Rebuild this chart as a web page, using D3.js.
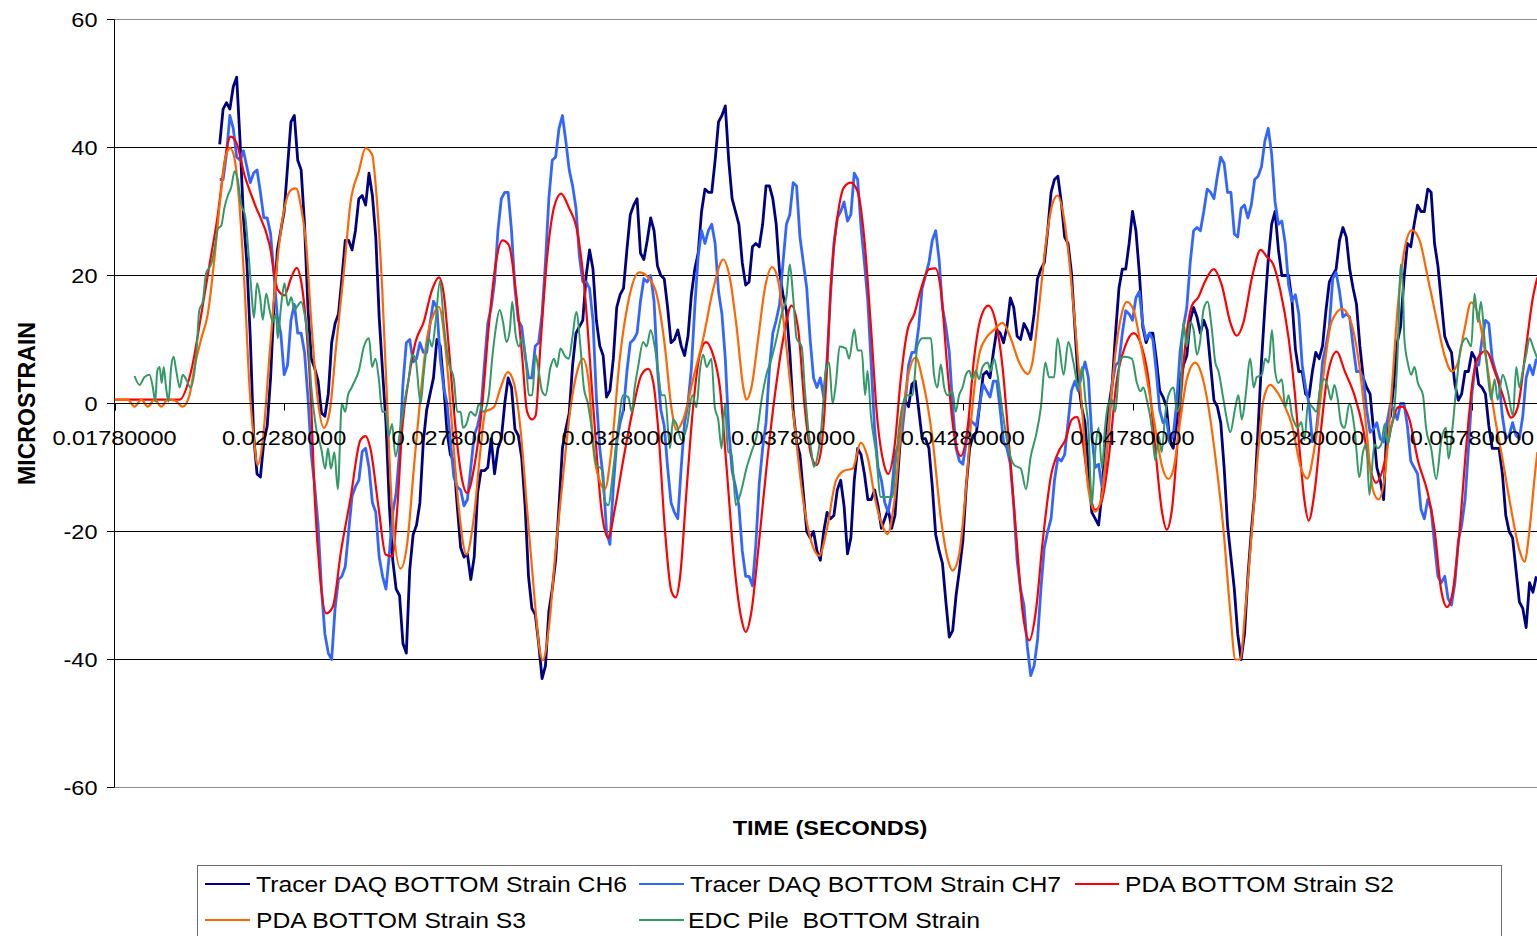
<!DOCTYPE html>
<html>
<head>
<meta charset="utf-8">
<script src="https://cdn.jsdelivr.net/npm/d3@7"></script>
<style>
  body { margin: 0; background: #fff; }
  svg { display: block; }
  text { font-family: "Liberation Sans", Arial, sans-serif; fill: #000; white-space: pre; }
</style>
</head>
<body>
<svg id="chart" width="1537" height="936"></svg>
<script>
// ---- axis definitions -------------------------------------------------
const xTickValues = [0.0178, 0.0228, 0.0278, 0.0328, 0.0378, 0.0428, 0.0478, 0.0528, 0.0578];
const yTickValues = [-60, -40, -20, 0, 20, 40, 60];
const xTitle = "TIME (SECONDS)";
const yTitle = "MICROSTRAIN";

// ---- Tracer DAQ gauges: sampled every 0.1 ms from 20.9 ms -------------
const daqStartMs = 20.9;
const daqStepMs = 0.1;

const ch6Strain = [
  40.5,46, 47,46, 49.5,51, 41,29, 22,10.5,
  -5,-11, -11.5,-6, -3.5,4, 15.5,24, 27,30,
  37,44, 45,38, 36.5,28, 15,7, 5.5,3.5,
  -1.5,-2, 1.5,9.5, 12.5,14, 19.5,25.5, 25.5,24,
  27,32, 32.5,31, 36,32.5, 26,13.5, 5,-3,
  -16,-24.5, -29,-30, -37.5,-39, -26,-20.5, -19,-15.5,
  -6,-1, 1.5,4, 10,9, 3,-4.5, -8,-9,
  -16,-22.5, -24,-23.5, -27.5,-24, -14,-10.5, -10.5,-10,
  -5.5,-11, -7,-5.5, 0,4, 2.5,-4, -5,-8.5,
  -16,-27, -32,-33, -37.5,-43, -41,-32.5, -29,-24.5,
  -16,-7, -4,-1.5, 6,11, 12,13, 20,24,
  21,13, 9,7.5, 1,2, 7,15, 17,18,
  24,29.5, 31,32, 23.5,22.5, 25.5,29, 27,21.5,
  20,19.5, 15,9.5, 10,11.5, 9,7.5, 10.5,17,
  21,23.5, 30,33.5, 33,33, 38,44, 45,46.5,
  38,32, 30,28, 22,18.5, 19,24.5, 25,24.5,
  28,34, 34,32, 28,20.5, 17,14.5, 8,-1,
  -6,-8, -14,-20, -21,-20, -23,-24.5, -20,-17,
  -18,-17.5, -13.5,-12, -16,-23.5, -21,-12, -7,-8,
  -11,-15, -15,-13.5, -16,-19.5, -18,-16.5, -19.5,-17.5,
  -10,-2.5, 0.5,-0.5, 3,3.5, -1,-5.5, -5.5,-7,
  -13,-20.5, -23,-25, -31,-36.5, -35.5,-30, -26,-21.5,
  -13,-7, -5,-4.5, 0,4.5, 5,4, 8,11.5,
  11,9.5, 12,16.5, 15,10.5, 10,12.5, 11.5,10,
  14,19.5, 21,22, 27,33, 35,35.5, 31.5,26,
  25,20.5, 12,3.5, -0.5,-3, -10,-17, -18,-19,
  -14,-5, -0.5,3, 11,18, 21,21, 25,30,
  27,20.5, 12,9.5, 11,11, 7,2, 1,-0.5,
  -6,-7, -3,3.5, 6,7.5, 13,15, 13.5,11,
  13,11.5, 6,0.5, -0.5,-3, -10,-19, -24,-29,
  -36,-40, -36,-27, -20,-14, -4,6.5, 15,22.5,
  28,30, 24,20, 20,20, 16,8.5, 5,5,
  1.5,1, 5,8, 7,9, 14.5,19, 20,21,
  25.5,27.5, 26,21, 18,15.5, 9,4, 2.5,1.5,
  -4,-10, -12,-15, -3,-2, 3,9.5, 12,19.5,
  25,24.5, 28,31, 30,30, 33.5,33, 25,21.5,
  16,10.5, 9,8, 3,0.5, 1.5,5, 5,8,
  7,3, 2.5,1.5, -3.5,-7, -7,-7, -11,-17.5,
  -20,-21, -26,-31, -32,-35, -28,-29.5, -27
];

const ch7Strain = [
  35,35, 39,45, 43,38.5, 38,39.5, 37,34.5,
  36,36.5, 33,29, 29,26.5, 20,13.5, 11,4.5,
  6,13, 15.5,11, 11,8, 1,-8, -13,-19,
  -29,-36, -39,-40, -32,-27.5, -27,-25.5, -20,-14.5,
  -13,-12, -7.5,-7, -10,-15.5, -17,-24, -27,-29,
  -23.5,-17, -14,-7.5, 3,9.5, 10,6.5, 7,9.5,
  8,8, 12.5,16, 15,7, 2.5,0, -6,-11.5,
  -13,-13.5, -16,-15, -10,-5, -3.5,-1, 6,12.5,
  15,19, 27,32, 33,33, 27,18, 13,12,
  7.5,4, 4,9, 9.5,14, 22,32, 38,38.5,
  43,45, 41,36.5, 34,30.5, 23,19, 19,18,
  13,1, -7,-11.5, -20,-22, -13,-6, -3,-1,
  5,9.5, 10,11, 16,19.5, 19,20, 16,5.5,
  -1,-3.5, -10,-15.5, -17,-18, -10,-3, 0,5.5,
  15,23, 27,25, 27,28, 25,17.5, 14,7,
  -4,-10.5, -13,-16, -23,-27, -27,-28.5, -22,-12.5,
  -7,-3, 5.5,11, 13,15.5, 22,28, 29.5,34.5,
  34,26, 22,18, 10,4, 2.5,4, 1,7,
  17,25, 29,30, 31.5,28.5, 29.5,36, 35,27.5,
  22,16, 6,-4, -10,-12, -15.5,-17, -14,-8,
  -6.5,-5, 0,6, 8,8, 12,18, 20,22,
  25.5,27, 22.5,15, 12,8, -0.5,-7, -9,-9.5,
  -6,-2.5, -3,-3.5, 0,3, 2,1, 3.5,3.5,
  -1,-6, -7,-9.5, -16,-24.5, -29,-31.5, -38,-42.5,
  -41,-37, -29,-22.5, -20,-18, -12,-8.5, -9,-8,
  -3,2, 3.5,2, 4.5,6.5, 4,-5, -10,-9.5,
  -13,-10, -3.5,3, 6,6.5, 11,14.5, 14,13,
  16.5,17.5, 12.5,10, 11,10, 5,-1, -3,-2.5,
  -6,-5, 0,8, 12,15, 22,27, 27.5,27,
  30,33.5, 33,32, 35.5,38.5, 37.5,33, 33,26.5,
  26,30.5, 31,29, 31,35, 35.5,37, 41,43,
  39,31.5, 28,28.5, 25,18.5, 16,17, 14,6,
  2.5,0, -6,-5, 0,6.5, 9,12, 19.5,20.5,
  17.5,13.5, 14,13.5, 9,5, 5,4, -1,-4.5,
  -4,-3, -5.5,-6, -3,0, -1,-2.5, 0,0,
  -3.5,-9, -10,-11, -16.5,-18, -15,-16.5, -22,-27,
  -28,-27, -30.5,-31.5, -28,-21.5, -19,-15, -7,1.5,
  6,6, 10,13, 12.5,7, 5,3.5, -2,-5.5,
  -5,-3, -5,-5.5, -2,4, 6,4.5, 7
];

// ---- PDA gauges: [time ms, microstrain] -------------------------------
const s2Samples = [
  [17.80,0.6],[19.72,0.6],[20.06,5.1],[20.36,14],[20.60,21.7],[20.84,29.3],[21.04,37.6],[21.22,41.7],[21.39,40.8],[21.63,35.7],
  [21.93,31.2],[22.37,24.8],[22.61,17.8],[22.81,16.9],[23.01,19.7],[23.17,21.2],[23.30,19.1],[23.45,12.1],[23.60,-0.6],[23.69,-13.4],
  [23.84,-26],[24.04,-32.8],[24.23,-31.8],[24.48,-22.9],[24.75,-15],[25.05,-5.7],[25.20,-5.1],[25.34,-7],[25.59,-16.6],[25.79,-23.6],
  [25.98,-23.9],[26.13,-16.6],[26.28,-3.8],[26.47,3.8],[26.67,9.6],[26.91,12.7],[27.16,17.8],[27.36,19.7],[27.50,17.2],[27.65,8.9],
  [27.85,-3.8],[28.05,-12.1],[28.19,-14],[28.39,-10.2],[28.64,0],[28.83,12.1],[29.03,21.7],[29.23,25.5],[29.42,24.8],[29.62,17.8],
  [29.81,7.6],[29.96,-1.3],[30.11,-2.5],[30.21,-1.9],[30.35,8.9],[30.55,22.9],[30.75,30.6],[30.96,32.8],[31.19,30.6],[31.44,26.8],
  [31.63,19.1],[31.91,-0.6],[32.15,-16.6],[32.35,-21],[32.54,-16.6],[32.79,-8.9],[33.09,-0.6],[33.33,4.5],[33.53,5.4],[33.68,3.2],
  [33.82,-3.8],[34.02,-19.7],[34.21,-29.3],[34.34,-30.3],[34.46,-27.4],[34.66,-13.4],[34.85,-0.6],[35.05,7.6],[35.23,9.6],[35.44,7.6],
  [35.64,2.5],[35.84,-10.2],[36.08,-26],[36.28,-33.8],[36.40,-35.7],[36.57,-32.5],[36.77,-22.9],[37.01,-10.2],[37.26,1.3],[37.51,10.2],
  [37.75,15.3],[37.95,11.5],[38.14,-0.6],[38.34,-8.3],[38.49,-9.6],[38.63,-7],[38.78,3.8],[38.91,18.5],[39.11,29.3],[39.30,33.8],
  [39.50,34.5],[39.70,33.1],[39.89,26.1],[40.09,12.1],[40.28,-2.5],[40.48,-9.6],[40.60,-11],[40.78,-7],[40.97,3.8],[41.17,11.5],
  [41.37,14],[41.56,17.8],[41.81,21],[41.99,21.1],[42.15,17.8],[42.35,5.1],[42.55,-5.1],[42.74,-8.2],[42.94,-3.8],[43.13,7],
  [43.33,13.4],[43.55,15.3],[43.77,12.7],[43.97,5.7],[44.17,-7],[44.36,-19.7],[44.56,-32.5],[44.76,-37],[44.95,-32.5],[45.15,-21.7],
  [45.39,-11.5],[45.64,-7.3],[45.82,-5.7],[46.01,-2.5],[46.16,-2.1],[46.31,-5.1],[46.50,-12.7],[46.70,-16.6],[46.89,-15.3],[47.09,-8.9],
  [47.34,3.8],[47.58,8.9],[47.83,11],[48.07,8.9],[48.27,3.8],[48.47,-7],[48.66,-16.6],[48.81,-19.7],[48.96,-16.6],[49.16,-3.8],
  [49.35,8.9],[49.55,15.3],[49.74,16.6],[49.94,19.1],[50.19,21],[50.43,18.5],[50.68,12.7],[50.87,10.6],[51.07,12.7],[51.32,19.7],
  [51.58,24],[51.76,22.9],[51.95,21.7],[52.15,17.8],[52.40,10.2],[52.59,1.3],[52.72,-7],[52.87,-15.3],[52.99,-18.3],[53.16,-14],
  [53.36,-3.8],[53.55,4.5],[53.82,8.1],[54.05,5.1],[54.34,1.3],[54.59,-3.8],[54.78,-9.6],[54.98,-12.4],[55.18,-10.2],[55.42,-3.8],
  [55.62,-0.6],[55.76,-0.5],[55.96,-2.5],[56.21,-8.9],[56.50,-14],[56.70,-19.7],[56.90,-29.3],[57.07,-31.8],[57.24,-29.3],[57.44,-19.7],
  [57.63,-7],[57.83,3.8],[58.03,7.6],[58.22,8.2],[58.47,5.1],[58.71,1.3],[58.96,-2.2],[59.15,-0.6],[59.40,8.9],[59.60,16.6],
  [59.73,19.7]
];

const s3Samples = [
  [17.80,0.6],[18.19,0.6],[18.39,-0.5],[18.59,0.6],[18.78,-0.5],[18.98,0.6],[19.18,-0.5],[19.37,0.6],[19.57,0.5],[19.81,-0.5],
  [20.01,1.3],[20.16,5.7],[20.36,10.2],[20.55,14],[20.75,22.9],[20.94,33.1],[21.09,38.9],[21.21,39.9],[21.34,38.2],[21.48,31.2],
  [21.63,18.5],[21.78,2.5],[21.91,-5.7],[22.02,-9.6],[22.17,-5.7],[22.37,7.6],[22.61,22.9],[22.81,30.6],[23.01,33.4],[23.15,33.6],
  [23.30,30.6],[23.45,24.8],[23.60,12.7],[23.79,0.6],[23.97,-3.8],[24.14,-1.3],[24.33,8.9],[24.58,21.7],[24.75,31.2],[25.00,36.3],
  [25.20,39.9],[25.39,38.9],[25.54,31.2],[25.69,17.8],[25.84,-0.6],[25.98,-16.6],[26.23,-25.8],[26.43,-21.7],[26.62,-10.2],[26.82,1.3],
  [27.01,10.2],[27.21,14],[27.36,15.1],[27.55,8.9],[27.75,-3.8],[27.95,-16.6],[28.17,-23.6],[28.39,-17.8],[28.59,-7],[28.73,-1.3],
  [28.98,-0.6],[29.18,2.5],[29.39,4.9],[29.57,3.2],[29.76,-3.8],[29.96,-16.6],[30.16,-29.3],[30.32,-38.2],[30.42,-40.1],[30.60,-35],
  [30.80,-22.9],[31.04,-10.2],[31.24,-0.6],[31.44,5.1],[31.60,7],[31.78,3.2],[31.91,-7],[32.10,-12.1],[32.25,-13.4],[32.45,-7],
  [32.69,7],[32.94,15.9],[33.26,20.5],[33.53,19.7],[33.77,17.2],[34.02,8.9],[34.21,-0.6],[34.36,-4.1],[34.56,-2.5],[34.85,3.8],
  [35.15,10.2],[35.44,17.8],[35.74,22.5],[35.93,19.7],[36.13,12.1],[36.33,2.5],[36.42,0.6],[36.57,2.5],[36.77,10.2],[36.96,17.8],
  [37.18,21.3],[37.36,19.1],[37.60,8.9],[37.85,-3.8],[38.10,-15.3],[38.34,-21.7],[38.57,-23.8],[38.78,-20],[39.06,-12.1],[39.30,-10.5],
  [39.55,-10.2],[39.79,-6.1],[39.99,-8.3],[40.23,-15.3],[40.43,-19.1],[40.58,-20.4],[40.78,-15.3],[41.02,-1.9],[41.22,5.1],[41.41,7.2],
  [41.61,3.8],[41.91,-5.7],[42.15,-17.8],[42.35,-24.2],[42.50,-26.1],[42.69,-23.6],[42.89,-13.4],[43.08,-0.6],[43.28,7.6],[43.48,10.2],
  [43.72,11.5],[43.97,12.6],[44.21,10.2],[44.46,6.4],[44.71,4.6],[44.85,6.4],[45.05,15.3],[45.24,24.8],[45.44,31.2],[45.59,32.5],
  [45.77,29.3],[45.91,23.6],[46.11,12.1],[46.31,-0.6],[46.50,-13.4],[46.70,-16.9],[46.89,-14.6],[47.09,-3.8],[47.29,7.6],[47.48,14],
  [47.63,15.9],[47.83,14.6],[48.03,9.6],[48.27,2.5],[48.47,-3.8],[48.66,-9.6],[48.86,-11.8],[49.01,-10.2],[49.21,-2.5],[49.40,3.8],
  [49.65,6.4],[49.84,4.5],[50.04,-0.6],[50.24,-8.3],[50.48,-19.7],[50.68,-32.5],[50.83,-40],[50.97,-40],[51.12,-32.5],[51.32,-19.7],
  [51.51,-7],[51.66,0.6],[51.86,2.9],[52.05,1.9],[52.30,-0.6],[52.49,-3.2],[52.77,-10.2],[52.95,-11.7],[53.16,-7],[53.41,3.8],
  [53.66,12.7],[53.98,14.8],[54.24,12.7],[54.49,5.7],[54.69,-3.8],[54.88,-13.4],[55.05,-15],[55.23,-11.5],[55.42,0.6],[55.62,15.3],
  [55.82,24.2],[56.03,27.1],[56.26,25.5],[56.50,19.7],[56.75,13.4],[56.99,7.6],[57.21,5],[57.39,6.4],[57.58,11.5],[57.78,15.8],
  [57.98,14],[58.22,7],[58.47,-1.9],[58.71,-8.9],[58.96,-16.6],[59.20,-22.9],[59.35,-24.7],[59.50,-19.7],[59.65,-11.5],[59.73,-7.6]
];

// ---- EDC pile gauge: [time ms, microstrain] ---------------------------
const edcSamples = [
  [18.39,4.3],[18.54,2.9],[18.68,4.1],[18.83,4.5],[18.93,2.5],[19.00,0.3],[19.06,5.1],[19.13,5.7],[19.19,3.2],[19.25,5.7],
  [19.32,2.5],[19.39,0.3],[19.47,5.7],[19.54,7.3],[19.62,5.1],[19.72,2.5],[19.81,4.5],[19.91,3.8],[20.04,2.5],[20.21,7.6],
  [20.30,14.6],[20.40,15.9],[20.50,20.4],[20.65,21.8],[20.75,24.2],[20.85,27.4],[20.94,27.7],[21.04,30.6],[21.14,32.5],[21.24,33.8],
  [21.34,36.3],[21.43,35],[21.53,31.2],[21.65,29.3],[21.73,24.8],[21.83,17.8],[21.91,13.4],[22.00,18.8],[22.09,16.6],[22.17,13.1],
  [22.27,17.2],[22.37,14.6],[22.47,12.7],[22.56,14],[22.61,10.2],[22.71,15.3],[22.81,18.8],[22.91,15.3],[23.01,16.6],[23.10,14.6],
  [23.20,15.3],[23.30,15.9],[23.40,14],[23.50,10.2],[23.60,2.5],[23.74,-3.8],[23.89,-7],[24.01,-10.2],[24.09,-7],[24.18,-10.2],
  [24.28,-7.6],[24.38,-13.4],[24.50,0],[24.60,-1.3],[24.68,1.3],[24.79,2.5],[24.85,3.2],[25.00,5.1],[25.15,8.9],[25.30,10.2],
  [25.39,5.7],[25.49,7],[25.59,3.8],[25.69,-1.3],[25.79,-1.3],[25.88,-5.1],[25.98,-3.2],[26.08,-8.3],[26.23,-3.8],[26.38,1.3],
  [26.47,3.8],[26.57,7.6],[26.67,7],[26.82,0],[26.92,5.1],[27.06,10.2],[27.16,8.9],[27.26,12.7],[27.39,19.1],[27.51,12.1],
  [27.65,6.4],[27.80,3.8],[27.90,-1.3],[28.00,-1.3],[28.07,-3.8],[28.17,-3.2],[28.29,-1.3],[28.44,-1.9],[28.54,0],[28.68,-1.3],
  [28.83,1.3],[28.93,7],[29.03,11.5],[29.15,14.6],[29.25,12.7],[29.35,9.6],[29.45,11.5],[29.52,15.9],[29.62,10.8],[29.72,8.9],
  [29.81,10.2],[29.91,7.6],[30.01,1.3],[30.11,1.3],[30.21,7.6],[30.30,5.1],[30.40,1.9],[30.50,1.3],[30.65,5.7],[30.75,7],
  [30.84,5.7],[30.94,8.6],[31.09,7.3],[31.19,7],[31.29,10.2],[31.41,14.3],[31.53,8.9],[31.63,2.5],[31.75,0],[31.86,-3.8],
  [32.00,-9.6],[32.15,-10.2],[32.25,-15.3],[32.35,-15.9],[32.50,-10.2],[32.64,-3.8],[32.79,1.3],[32.94,1],[33.04,-1.3],[33.13,2.5],
  [33.23,5.7],[33.38,9.6],[33.48,8.9],[33.60,11.5],[33.72,8.9],[33.82,5.1],[33.92,1.3],[34.02,1.3],[34.17,-7],[34.26,-2.5],
  [34.36,-3.2],[34.51,-5.7],[34.66,-3.8],[34.83,1.3],[34.95,-0.6],[35.05,5.1],[35.15,7.6],[35.25,5.7],[35.39,7],[35.49,-0.6],
  [35.59,-2.5],[35.69,-7],[35.79,0],[35.88,-7.6],[35.98,-7.6],[36.11,-15.9],[36.28,-13.4],[36.42,-10.2],[36.57,-7.6],[36.72,-5.1],
  [36.87,0.6],[37.01,4.5],[37.16,7],[37.31,10.2],[37.46,14],[37.60,16.6],[37.70,21.7],[37.80,16.6],[37.90,10.2],[38.05,8.9],
  [38.14,2.5],[38.24,-3.8],[38.34,-7.6],[38.41,-9.9],[38.54,-7.6],[38.63,-3.8],[38.76,5.1],[38.86,6.4],[38.96,0],[39.06,3.2],
  [39.17,8.9],[39.35,8.6],[39.45,7],[39.60,11.6],[39.70,8.3],[39.82,8.3],[39.92,1.3],[39.99,5.1],[40.09,-1.9],[40.24,-7.6],
  [40.38,-14.6],[40.58,-14.6],[40.73,-14.6],[40.83,-8.9],[40.92,-3.8],[41.07,0.6],[41.17,1.3],[41.32,1.3],[41.46,8.9],[41.61,10.2],
  [41.86,10.2],[41.95,4.5],[42.05,2.5],[42.15,6.1],[42.25,2.5],[42.35,1.3],[42.49,1.9],[42.59,-1.3],[42.69,1.3],[42.79,2.5],
  [42.89,4.5],[42.99,5.1],[43.08,3.8],[43.18,5.1],[43.28,3.8],[43.38,5.7],[43.53,6.4],[43.62,5.1],[43.72,7],[43.82,4.5],
  [43.97,-1.3],[44.17,-7.6],[44.31,-9.6],[44.51,-10.2],[44.66,-13.4],[44.80,-8.3],[44.95,-5.1],[45.10,-0.6],[45.23,6.4],[45.34,4.1],
  [45.49,4.1],[45.59,10.2],[45.77,4.5],[45.91,9.6],[46.06,6.4],[46.21,2.5],[46.31,5.7],[46.41,0.6],[46.50,-3.8],[46.60,-15.9],
  [46.70,-7.6],[46.80,-3.8],[46.90,-10.2],[46.99,-3.8],[47.09,0],[47.19,0.6],[47.29,-1.3],[47.44,7],[47.58,7.3],[47.78,7],
  [47.93,3.2],[48.03,1.9],[48.12,2.5],[48.22,0.6],[48.37,-3.8],[48.47,-8.9],[48.57,-5.1],[48.66,-7.6],[48.76,-1.9],[48.86,1.3],
  [49.01,2.5],[49.11,-1.3],[49.20,0],[49.30,12.7],[49.40,8.9],[49.50,12.7],[49.60,11.5],[49.70,7.6],[49.79,9.6],[49.89,14.6],
  [50.01,15.9],[50.14,11.5],[50.24,6.4],[50.33,5.1],[50.48,0.6],[50.58,-2.5],[50.68,-4.5],[50.83,-0.6],[50.92,1.3],[51.02,-2.5],
  [51.12,0.6],[51.27,7],[51.37,2.5],[51.46,4.1],[51.61,4.5],[51.71,7],[51.81,6.4],[51.91,11.5],[52.00,5.1],[52.10,3.2],
  [52.20,3.8],[52.30,-0.6],[52.40,1.3],[52.50,-1.9],[52.59,-3.2],[52.67,-3.8],[52.77,-2.9],[52.87,-5.7],[52.97,0],[53.11,-0.6],
  [53.21,-1.3],[53.36,3.2],[53.46,3.8],[53.56,2.5],[53.65,0.6],[53.75,2.9],[53.85,0.6],[53.95,-3.2],[54.05,-3.8],[54.19,0],
  [54.34,-3.8],[54.49,-11.5],[54.59,-7.6],[54.69,-6.4],[54.78,-14.3],[54.93,-6.4],[55.03,-7],[55.13,-6.4],[55.23,-3.2],[55.32,-6.4],
  [55.42,-3.8],[55.52,-0.6],[55.62,8.9],[55.70,21.7],[55.77,17.8],[55.81,10.2],[55.91,6.4],[56.01,4.5],[56.11,5.7],[56.21,3.2],
  [56.36,1.3],[56.45,-3.8],[56.60,-7],[56.75,-11.8],[56.90,-5.7],[57.04,-3.8],[57.11,-8.6],[57.24,-3.2],[57.34,2.5],[57.48,8.9],
  [57.63,10.2],[57.78,8.9],[57.88,17.2],[57.98,12.7],[58.07,15.9],[58.17,10.2],[58.27,4.5],[58.37,0.6],[58.47,3.8],[58.56,0.6],
  [58.71,4.5],[58.86,1.9],[59.01,-1.9],[59.11,5.7],[59.20,2.5],[59.30,5.1],[59.40,7.6],[59.50,10.2],[59.60,8.9],[59.73,7]
];

// ---- series styling / legend ------------------------------------------
const seriesNames = [
  "Tracer DAQ BOTTOM Strain CH6",
  "Tracer DAQ BOTTOM Strain CH7",
  "PDA BOTTOM Strain S2",
  "PDA BOTTOM Strain S3",
  "EDC Pile  BOTTOM Strain"
];
const seriesColors = ["#000080", "#3366FF", "#FF0000", "#FF6600", "#339966"];

// ---- build point lists (time in seconds) ------------------------------
const toSec = ms => ms / 1000;
const daqPoints = arr => arr.map((v, i) => [toSec(daqStartMs + i * daqStepMs), v]);
const pairPoints = arr => arr.map(([ms, v]) => [toSec(ms), v]);

const series = [
  { name: seriesNames[0], color: seriesColors[0], pts: daqPoints(ch6Strain), curve: d3.curveLinear, w: 2.8 },
  { name: seriesNames[1], color: seriesColors[1], pts: daqPoints(ch7Strain), curve: d3.curveLinear, w: 2.8 },
  { name: seriesNames[2], color: seriesColors[2], pts: pairPoints(s2Samples), curve: d3.curveMonotoneX, w: 2.2 },
  { name: seriesNames[3], color: seriesColors[3], pts: pairPoints(s3Samples), curve: d3.curveMonotoneX, w: 2.2 },
  { name: seriesNames[4], color: seriesColors[4], pts: pairPoints(edcSamples), curve: d3.curveMonotoneX, w: 2 }
];

// ---- layout -----------------------------------------------------------
const svg = d3.select("#chart");
const W = 1537, H = 936;
const plotLeft = 114.5, plotRight = 1537, plotTop = 19.5, plotBottom = 787.5;
const pxPerTick = 169.67;            // width of one 0.005 s interval
const xMax = 0.0178 + (plotRight - plotLeft) / pxPerTick * 0.005;

const x = d3.scaleLinear().domain([0.0178, xMax]).range([plotLeft, plotRight]);
const y = d3.scaleLinear().domain([-60, 60]).range([plotBottom, plotTop]);
const SX = 1.12; // horizontal glyph stretch used by the chart's text

function addText(g, str, px, py, opt = {}) {
  const size = opt.size || 21;
  const rot = opt.rotate || 0;
  const scale = rot ? `scale(1,${SX})` : `scale(${SX},1)`;
  const t = g.append("text")
    .attr("transform", `translate(${px},${py}) rotate(${rot}) ${scale}`)
    .attr("text-anchor", opt.anchor || "start")
    .style("font-size", size + "px")
    .style("font-weight", opt.weight || "normal")
    .text(str);
  if (opt.length) {
    // target length is in page pixels; undo the glyph stretch along the baseline
    const len = rot ? opt.length : opt.length / SX;
    t.attr("textLength", len).attr("lengthAdjust", "spacingAndGlyphs");
  }
  return t;
}

// gridlines
const grid = svg.append("g");
grid.selectAll("line.h")
  .data(yTickValues.filter(v => v !== 0))
  .join("line")
  .attr("x1", plotLeft).attr("x2", plotRight)
  .attr("y1", d => y(d)).attr("y2", d => y(d))
  .attr("stroke", d => Math.abs(d) === 60 ? "#8c8c8c" : "#000")
  .attr("stroke-width", 1);

// y axis
const yAxis = svg.append("g");
yAxis.append("line")
  .attr("x1", plotLeft).attr("x2", plotLeft)
  .attr("y1", plotTop).attr("y2", plotBottom)
  .attr("stroke", "#000");
yAxis.selectAll("line.tick")
  .data(yTickValues)
  .join("line")
  .attr("x1", plotLeft - 7.5).attr("x2", plotLeft)
  .attr("y1", d => y(d)).attr("y2", d => y(d))
  .attr("stroke", "#000");
yTickValues.forEach(v => addText(yAxis, String(v), 97.5, y(v) + 7.5, { anchor: "end" }));

// series lines
svg.append("clipPath").attr("id", "plotClip")
  .append("rect").attr("x", plotLeft).attr("y", 0).attr("width", plotRight - plotLeft).attr("height", H);
const lines = svg.append("g").attr("clip-path", "url(#plotClip)");
series.forEach(s => {
  const gen = d3.line().x(d => x(d[0])).y(d => y(d[1])).curve(s.curve);
  lines.append("path")
    .attr("d", gen(s.pts))
    .attr("fill", "none")
    .attr("stroke", s.color)
    .attr("stroke-width", s.w)
    .attr("stroke-linejoin", "round");
});

// x axis (at zero)
const xAxis = svg.append("g");
xAxis.append("line")
  .attr("x1", plotLeft).attr("x2", plotRight)
  .attr("y1", y(0)).attr("y2", y(0))
  .attr("stroke", "#000");
xAxis.selectAll("line.tick")
  .data(xTickValues)
  .join("line")
  .attr("x1", d => Math.round(x(d)) + 0.5).attr("x2", d => Math.round(x(d)) + 0.5)
  .attr("y1", y(0)).attr("y2", y(0) + 7)
  .attr("stroke", "#000");
const fmt = d3.format(".8f");
xTickValues.forEach(t => addText(xAxis, fmt(t), x(t), 445, { anchor: "middle" }));

// axis titles
addText(svg, xTitle, 830, 835, { anchor: "middle", weight: "bold" });
addText(svg, yTitle, 35, 403.5, { anchor: "middle", weight: "bold", rotate: -90, length: 163 });

// legend
const legend = svg.append("g");
legend.append("rect")
  .attr("x", 197.5).attr("y", 865.5)
  .attr("width", 1304).attr("height", 100)
  .attr("fill", "#fff").attr("stroke", "#6e6e6e");
const legendSlots = [
  { x1: 205, x2: 250, tx: 256, row: 0 },
  { x1: 639, x2: 684, tx: 690, row: 0 },
  { x1: 1075, x2: 1119, tx: 1125, row: 0 },
  { x1: 205, x2: 250, tx: 256, row: 1 },
  { x1: 639, x2: 684, tx: 688, row: 1 }
];
const legendLengths = [371, 371, 269, 270, 292];
series.forEach((s, i) => {
  const slot = legendSlots[i];
  const ly = 884 + slot.row * 36;
  legend.append("line")
    .attr("x1", slot.x1).attr("x2", slot.x2)
    .attr("y1", ly).attr("y2", ly)
    .attr("stroke", s.color).attr("stroke-width", 2);
  addText(legend, s.name, slot.tx, ly + 8, { size: 22, length: legendLengths[i] });
});
</script>
</body>
</html>
